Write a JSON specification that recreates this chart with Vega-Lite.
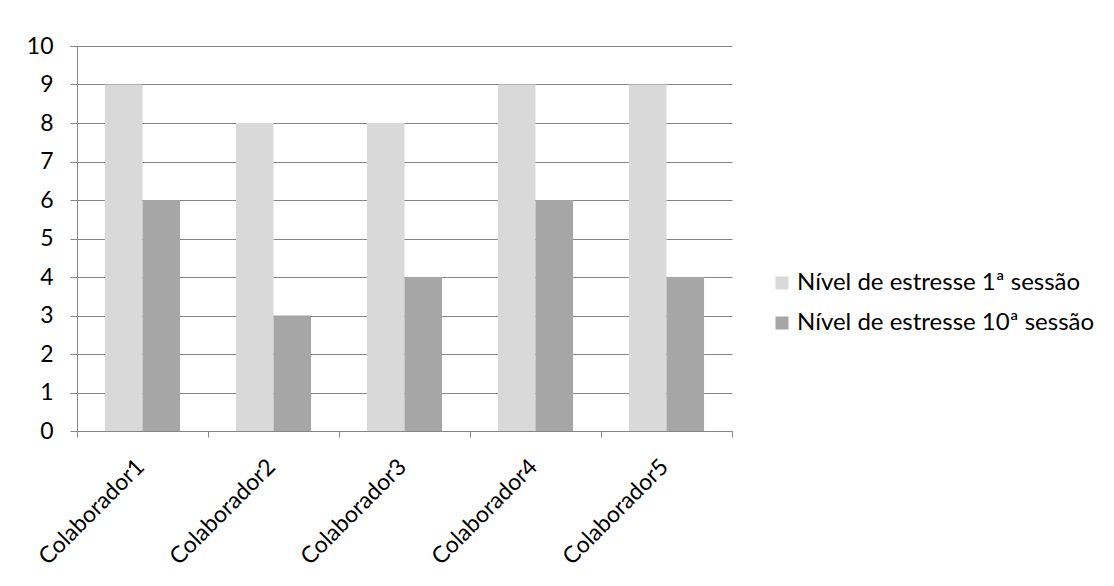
{
  "$schema": "https://vega.github.io/schema/vega-lite/v6.json",
  "width": 655,
  "height": 385,
  "autosize": {"type": "none"},
  "padding": {"left": 77, "top": 46, "right": 382, "bottom": 155},
  "background": "white",
  "config": {
    "view": {"stroke": null},
    "font": "Lato",
    "axis": {"labelFont": "Lato", "labelColor": "#000000", "labelFontSize": 23}
  },
  "data": {
    "values": [
      {"colaborador": "Colaborador1", "serie": "Nível de estresse 1ª sessão", "valor": 9},
      {"colaborador": "Colaborador1", "serie": "Nível de estresse 10ª sessão", "valor": 6},
      {"colaborador": "Colaborador2", "serie": "Nível de estresse 1ª sessão", "valor": 8},
      {"colaborador": "Colaborador2", "serie": "Nível de estresse 10ª sessão", "valor": 3},
      {"colaborador": "Colaborador3", "serie": "Nível de estresse 1ª sessão", "valor": 8},
      {"colaborador": "Colaborador3", "serie": "Nível de estresse 10ª sessão", "valor": 4},
      {"colaborador": "Colaborador4", "serie": "Nível de estresse 1ª sessão", "valor": 9},
      {"colaborador": "Colaborador4", "serie": "Nível de estresse 10ª sessão", "valor": 6},
      {"colaborador": "Colaborador5", "serie": "Nível de estresse 1ª sessão", "valor": 9},
      {"colaborador": "Colaborador5", "serie": "Nível de estresse 10ª sessão", "valor": 4}
    ]
  },
  "mark": {"type": "bar"},
  "encoding": {
    "x": {
      "field": "colaborador",
      "type": "nominal",
      "title": null,
      "scale": {"paddingInner": 0, "paddingOuter": 0},
      "axis": {
        "labelAngle": -45,
        "tickBand": "extent",
        "tickSize": 6,
        "tickColor": "#868686",
        "domainColor": "#868686",
        "labelPadding": 18,
        "labelOffset": -10,
        "labelLimit": 0,
        "grid": false
      }
    },
    "xOffset": {
      "field": "serie",
      "type": "nominal",
      "sort": ["Nível de estresse 1ª sessão", "Nível de estresse 10ª sessão"],
      "scale": {"paddingInner": 0, "paddingOuter": 0.745}
    },
    "y": {
      "field": "valor",
      "type": "quantitative",
      "title": null,
      "scale": {"domain": [0, 10], "nice": false},
      "axis": {
        "values": [0,1,2,3,4,5,6,7,8,9,10],
        "grid": true,
        "gridColor": "#868686",
        "gridOpacity": 1,
        "tickColor": "#868686",
        "tickSize": 7,
        "domainColor": "#868686",
        "labelPadding": 17
      }
    },
    "color": {
      "field": "serie",
      "type": "nominal",
      "sort": ["Nível de estresse 1ª sessão", "Nível de estresse 10ª sessão"],
      "scale": {"range": ["#D9D9D9", "#A6A6A6"]},
      "legend": {
        "title": null,
        "orient": "none",
        "legendX": 693,
        "legendY": 225,
        "symbolType": "square",
        "symbolSize": 169,
        "symbolStrokeWidth": 0,
        "labelFontSize": 24,
        "labelFont": "Lato",
        "labelColor": "#000000",
        "labelLimit": 0,
        "rowPadding": 16,
        "labelOffset": 3
      }
    }
  }
}
